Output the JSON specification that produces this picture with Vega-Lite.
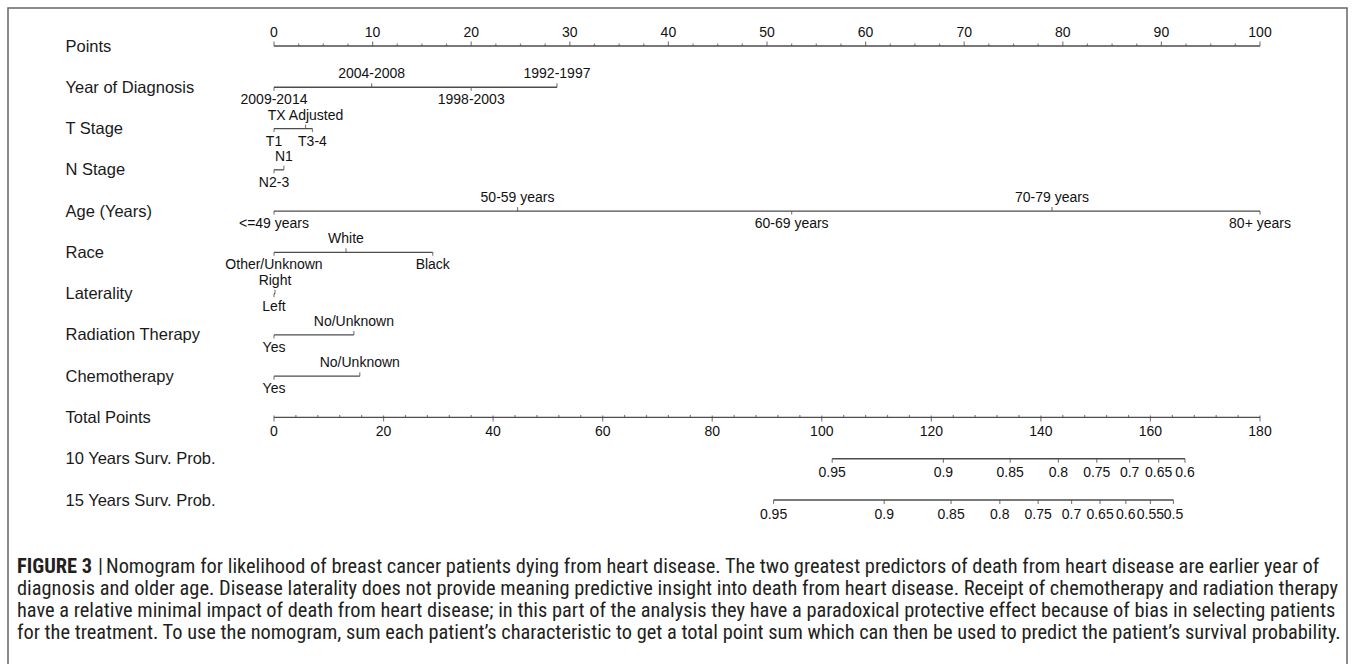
{
  "$schema": "https://vega.github.io/schema/vega-lite/v6.json",
  "width": 1339,
  "height": 660,
  "autosize": {"type": "none"},
  "padding": {"left": 8, "top": 8, "right": 11, "bottom": -4},
  "background": "white",
  "config": {"view": {"stroke": "#666666", "strokeWidth": 1.5}},
  "datasets": {
    "levels": [
      {"var": "Year of Diagnosis", "label": "2009-2014", "pts": 0},
      {"var": "Year of Diagnosis", "label": "2004-2008", "pts": 9.9},
      {"var": "Year of Diagnosis", "label": "1998-2003", "pts": 20.0},
      {"var": "Year of Diagnosis", "label": "1992-1997", "pts": 28.7},
      {"var": "T Stage", "label": "T1", "pts": 0},
      {"var": "T Stage", "label": "TX Adjusted", "pts": 3.2},
      {"var": "T Stage", "label": "T3-4", "pts": 3.9},
      {"var": "N Stage", "label": "N2-3", "pts": 0},
      {"var": "N Stage", "label": "N1", "pts": 1.0},
      {"var": "Age (Years)", "label": "<=49 years", "pts": 0},
      {"var": "Age (Years)", "label": "50-59 years", "pts": 24.7},
      {"var": "Age (Years)", "label": "60-69 years", "pts": 52.5},
      {"var": "Age (Years)", "label": "70-79 years", "pts": 78.9},
      {"var": "Age (Years)", "label": "80+ years", "pts": 100},
      {"var": "Race", "label": "Other/Unknown", "pts": 0},
      {"var": "Race", "label": "White", "pts": 7.3},
      {"var": "Race", "label": "Black", "pts": 16.1},
      {"var": "Laterality", "label": "Left", "pts": 0},
      {"var": "Laterality", "label": "Right", "pts": 0.1},
      {"var": "Radiation Therapy", "label": "Yes", "pts": 0},
      {"var": "Radiation Therapy", "label": "No/Unknown", "pts": 8.1},
      {"var": "Chemotherapy", "label": "Yes", "pts": 0},
      {"var": "Chemotherapy", "label": "No/Unknown", "pts": 8.7}
    ],
    "ptsAxis": [
      {"v": 0}, {"v": 2.5}, {"v": 5}, {"v": 7.5}, {"v": 10}, {"v": 12.5}, {"v": 15}, {"v": 17.5}, {"v": 20}, {"v": 22.5},
      {"v": 25}, {"v": 27.5}, {"v": 30}, {"v": 32.5}, {"v": 35}, {"v": 37.5}, {"v": 40}, {"v": 42.5}, {"v": 45}, {"v": 47.5},
      {"v": 50}, {"v": 52.5}, {"v": 55}, {"v": 57.5}, {"v": 60}, {"v": 62.5}, {"v": 65}, {"v": 67.5}, {"v": 70}, {"v": 72.5},
      {"v": 75}, {"v": 77.5}, {"v": 80}, {"v": 82.5}, {"v": 85}, {"v": 87.5}, {"v": 90}, {"v": 92.5}, {"v": 95}, {"v": 97.5},
      {"v": 100}
    ],
    "totAxis": [
      {"v": 0}, {"v": 4}, {"v": 8}, {"v": 12}, {"v": 16}, {"v": 20}, {"v": 24}, {"v": 28}, {"v": 32}, {"v": 36},
      {"v": 40}, {"v": 44}, {"v": 48}, {"v": 52}, {"v": 56}, {"v": 60}, {"v": 64}, {"v": 68}, {"v": 72}, {"v": 76},
      {"v": 80}, {"v": 84}, {"v": 88}, {"v": 92}, {"v": 96}, {"v": 100}, {"v": 104}, {"v": 108}, {"v": 112}, {"v": 116},
      {"v": 120}, {"v": 124}, {"v": 128}, {"v": 132}, {"v": 136}, {"v": 140}, {"v": 144}, {"v": 148}, {"v": 152}, {"v": 156},
      {"v": 160}, {"v": 164}, {"v": 168}, {"v": 172}, {"v": 176}, {"v": 180}
    ],
    "surv": [
      {"var": "10 Years Surv. Prob.", "prob": 0.95, "tot": 101.9},
      {"var": "10 Years Surv. Prob.", "prob": 0.9, "tot": 122.2},
      {"var": "10 Years Surv. Prob.", "prob": 0.85, "tot": 134.4},
      {"var": "10 Years Surv. Prob.", "prob": 0.8, "tot": 143.2},
      {"var": "10 Years Surv. Prob.", "prob": 0.75, "tot": 150.2},
      {"var": "10 Years Surv. Prob.", "prob": 0.7, "tot": 156.2},
      {"var": "10 Years Surv. Prob.", "prob": 0.65, "tot": 161.5},
      {"var": "10 Years Surv. Prob.", "prob": 0.6, "tot": 166.3},
      {"var": "15 Years Surv. Prob.", "prob": 0.95, "tot": 91.2},
      {"var": "15 Years Surv. Prob.", "prob": 0.9, "tot": 111.4},
      {"var": "15 Years Surv. Prob.", "prob": 0.85, "tot": 123.6},
      {"var": "15 Years Surv. Prob.", "prob": 0.8, "tot": 132.5},
      {"var": "15 Years Surv. Prob.", "prob": 0.75, "tot": 139.5},
      {"var": "15 Years Surv. Prob.", "prob": 0.7, "tot": 145.6},
      {"var": "15 Years Surv. Prob.", "prob": 0.65, "tot": 150.8},
      {"var": "15 Years Surv. Prob.", "prob": 0.6, "tot": 155.5},
      {"var": "15 Years Surv. Prob.", "prob": 0.55, "tot": 160.0},
      {"var": "15 Years Surv. Prob.", "prob": 0.5, "tot": 164.2}
    ],
    "caption": [
      {"line": 1, "text": "Nomogram for likelihood of breast cancer patients dying from heart disease. The two greatest predictors of death from heart disease are earlier year of"},
      {"line": 2, "text": "diagnosis and older age. Disease laterality does not provide meaning predictive insight into death from heart disease. Receipt of chemotherapy and radiation therapy"},
      {"line": 3, "text": "have a relative minimal impact of death from heart disease; in this part of the analysis they have a paradoxical protective effect because of bias in selecting patients"},
      {"line": 4, "text": "for the treatment. To use the nomogram, sum each patient’s characteristic to get a total point sum which can then be used to predict the patient’s survival probability."}
    ]
  },
  "layer": [
    {
      "encoding": {
        "y": {
          "field": "var", "type": "nominal",
          "scale": {"type": "point", "padding": 0, "range": [38, 492],
            "domain": ["Points", "Year of Diagnosis", "T Stage", "N Stage", "Age (Years)", "Race", "Laterality", "Radiation Therapy", "Chemotherapy", "Total Points", "10 Years Surv. Prob.", "15 Years Surv. Prob."]},
          "axis": {"orient": "left", "domain": false, "ticks": false, "tickSize": 0, "grid": false, "title": null,
            "labelPadding": -57, "labelAlign": "left", "labelBaseline": "middle", "labelFont": "Liberation Sans",
            "labelFontSize": 16.5, "labelColor": "#1a1a1a", "labelLimit": 0, "labelOverlap": false}
        }
      },
      "layer": [
        {
          "data": {"name": "levels"},
          "transform": [{"aggregate": [{"op": "min", "field": "pts", "as": "lo"}, {"op": "max", "field": "pts", "as": "hi"}], "groupby": ["var"]}],
          "mark": {"type": "rule", "color": "#4d4d4d", "strokeWidth": 1.3},
          "encoding": {
            "x": {"field": "lo", "type": "quantitative", "scale": {"domain": [0, 100], "range": [266, 1252], "nice": false, "zero": false}, "axis": null},
            "x2": {"field": "hi"}
          }
        },
        {
          "data": {"name": "levels"},
          "transform": [
            {"window": [{"op": "row_number", "as": "rk"}], "groupby": ["var"], "sort": [{"field": "pts", "order": "ascending"}]},
            {"filter": "datum.rk % 2 === 0"}
          ],
          "mark": {"type": "tick", "color": "#4d4d4d", "size": 4, "thickness": 1.2, "yOffset": -2},
          "encoding": {"x": {"field": "pts", "type": "quantitative", "axis": null}}
        },
        {
          "data": {"name": "levels"},
          "transform": [
            {"window": [{"op": "row_number", "as": "rk"}], "groupby": ["var"], "sort": [{"field": "pts", "order": "ascending"}]},
            {"filter": "datum.rk % 2 === 1"}
          ],
          "mark": {"type": "tick", "color": "#4d4d4d", "size": 3.5, "thickness": 1.2, "yOffset": 1.75},
          "encoding": {"x": {"field": "pts", "type": "quantitative", "axis": null}}
        },
        {
          "data": {"name": "levels"},
          "transform": [
            {"window": [{"op": "row_number", "as": "rk"}], "groupby": ["var"], "sort": [{"field": "pts", "order": "ascending"}]},
            {"filter": "datum.rk % 2 === 0"}
          ],
          "mark": {"type": "text", "font": "Liberation Sans", "fontSize": 14, "color": "#111111", "baseline": "middle", "align": "center", "dy": -13},
          "encoding": {"x": {"field": "pts", "type": "quantitative", "axis": null}, "text": {"field": "label"}}
        },
        {
          "data": {"name": "levels"},
          "transform": [
            {"window": [{"op": "row_number", "as": "rk"}], "groupby": ["var"], "sort": [{"field": "pts", "order": "ascending"}]},
            {"filter": "datum.rk % 2 === 1"}
          ],
          "mark": {"type": "text", "font": "Liberation Sans", "fontSize": 14, "color": "#111111", "baseline": "middle", "align": "center", "dy": 13},
          "encoding": {"x": {"field": "pts", "type": "quantitative", "axis": null}, "text": {"field": "label"}}
        },
        {
          "data": {"name": "ptsAxis"},
          "transform": [
            {"aggregate": [{"op": "min", "field": "v", "as": "lo"}, {"op": "max", "field": "v", "as": "hi"}]},
            {"calculate": "'Points'", "as": "var"}
          ],
          "mark": {"type": "rule", "color": "#4d4d4d", "strokeWidth": 1.3},
          "encoding": {"x": {"field": "lo", "type": "quantitative", "axis": null}, "x2": {"field": "hi"}}
        },
        {
          "data": {"name": "ptsAxis"},
          "transform": [{"filter": "datum.v % 10 === 0"}, {"calculate": "'Points'", "as": "var"}],
          "mark": {"type": "tick", "color": "#4d4d4d", "size": 4.5, "thickness": 1.2, "yOffset": -2.25},
          "encoding": {"x": {"field": "v", "type": "quantitative", "axis": null}}
        },
        {
          "data": {"name": "ptsAxis"},
          "transform": [{"filter": "datum.v % 10 !== 0"}, {"calculate": "'Points'", "as": "var"}],
          "mark": {"type": "tick", "color": "#4d4d4d", "size": 2.5, "thickness": 1.2, "yOffset": -1.25},
          "encoding": {"x": {"field": "v", "type": "quantitative", "axis": null}}
        },
        {
          "data": {"name": "ptsAxis"},
          "transform": [{"filter": "datum.v % 10 === 0"}, {"calculate": "'Points'", "as": "var"}],
          "mark": {"type": "text", "font": "Liberation Sans", "fontSize": 14, "color": "#111111", "baseline": "middle", "align": "center", "dy": -13},
          "encoding": {"x": {"field": "v", "type": "quantitative", "axis": null}, "text": {"field": "v", "type": "quantitative"}}
        }
      ]
    },
    {
      "encoding": {
        "y": {
          "field": "var", "type": "nominal",
          "scale": {"type": "point", "padding": 0, "range": [38, 492],
            "domain": ["Points", "Year of Diagnosis", "T Stage", "N Stage", "Age (Years)", "Race", "Laterality", "Radiation Therapy", "Chemotherapy", "Total Points", "10 Years Surv. Prob.", "15 Years Surv. Prob."]},
          "axis": null
        }
      },
      "layer": [
        {
          "data": {"name": "totAxis"},
          "transform": [
            {"aggregate": [{"op": "min", "field": "v", "as": "lo"}, {"op": "max", "field": "v", "as": "hi"}]},
            {"calculate": "'Total Points'", "as": "var"}
          ],
          "mark": {"type": "rule", "color": "#4d4d4d", "strokeWidth": 1.3},
          "encoding": {
            "x": {"field": "lo", "type": "quantitative", "scale": {"domain": [0, 180], "range": [266, 1252], "nice": false, "zero": false}, "axis": null},
            "x2": {"field": "hi"}
          }
        },
        {
          "data": {"name": "totAxis"},
          "transform": [{"filter": "datum.v % 20 !== 0"}, {"calculate": "'Total Points'", "as": "var"}],
          "mark": {"type": "tick", "color": "#4d4d4d", "size": 2.5, "thickness": 1.2, "yOffset": -1.25},
          "encoding": {"x": {"field": "v", "type": "quantitative", "axis": null}}
        },
        {
          "data": {"name": "totAxis"},
          "transform": [{"filter": "datum.v % 20 === 0"}, {"calculate": "'Total Points'", "as": "var"}],
          "mark": {"type": "tick", "color": "#4d4d4d", "size": 6, "thickness": 1.2, "yOffset": 1},
          "encoding": {"x": {"field": "v", "type": "quantitative", "axis": null}}
        },
        {
          "data": {"name": "totAxis"},
          "transform": [{"filter": "datum.v % 20 === 0"}, {"calculate": "'Total Points'", "as": "var"}],
          "mark": {"type": "text", "font": "Liberation Sans", "fontSize": 14, "color": "#111111", "baseline": "middle", "align": "center", "dy": 14.5},
          "encoding": {"x": {"field": "v", "type": "quantitative", "axis": null}, "text": {"field": "v", "type": "quantitative"}}
        },
        {
          "data": {"name": "surv"},
          "transform": [{"aggregate": [{"op": "min", "field": "tot", "as": "lo"}, {"op": "max", "field": "tot", "as": "hi"}], "groupby": ["var"]}],
          "mark": {"type": "rule", "color": "#4d4d4d", "strokeWidth": 1.3},
          "encoding": {"x": {"field": "lo", "type": "quantitative", "axis": null}, "x2": {"field": "hi"}}
        },
        {
          "data": {"name": "surv"},
          "mark": {"type": "tick", "color": "#4d4d4d", "size": 4, "thickness": 1.2, "yOffset": 2},
          "encoding": {"x": {"field": "tot", "type": "quantitative", "axis": null}}
        },
        {
          "data": {"name": "surv"},
          "mark": {"type": "text", "font": "Liberation Sans", "fontSize": 14, "color": "#111111", "baseline": "middle", "align": "center", "dy": 14.5},
          "encoding": {"x": {"field": "tot", "type": "quantitative", "axis": null}, "text": {"field": "prob", "type": "quantitative", "format": "~g"}}
        }
      ]
    },
    {
      "data": {"name": "caption"},
      "encoding": {
        "x": {"datum": 0, "type": "quantitative", "scale": {"domain": [0, 1], "range": [9, 1340], "nice": false, "zero": false}, "axis": null},
        "y": {"field": "line", "type": "ordinal", "scale": {"type": "point", "domain": [1, 2, 3, 4], "range": [559, 625], "padding": 0}, "axis": null}
      },
      "layer": [
        {
          "transform": [{"filter": "datum.line === 1"}],
          "mark": {"type": "text", "align": "left", "baseline": "middle", "font": "Liberation Sans Narrow, Roboto Condensed, DejaVu Sans Condensed, Liberation Sans", "fontSize": 20.4, "fontWeight": "bold", "color": "#231f20"},
          "encoding": {"text": {"value": "FIGURE 3"}}
        },
        {
          "transform": [{"filter": "datum.line === 1"}],
          "mark": {"type": "text", "align": "left", "baseline": "middle", "font": "Liberation Sans Narrow, Roboto Condensed, DejaVu Sans Condensed, Liberation Sans", "fontSize": 20.4, "color": "#231f20", "dx": 81},
          "encoding": {"text": {"value": "|"}}
        },
        {
          "transform": [{"filter": "datum.line === 1"}],
          "mark": {"type": "text", "align": "left", "baseline": "middle", "font": "Liberation Sans Narrow, Roboto Condensed, DejaVu Sans Condensed, Liberation Sans", "fontSize": 20.4, "color": "#231f20", "dx": 89},
          "encoding": {"text": {"field": "text"}}
        },
        {
          "transform": [{"filter": "datum.line > 1"}],
          "mark": {"type": "text", "align": "left", "baseline": "middle", "font": "Liberation Sans Narrow, Roboto Condensed, DejaVu Sans Condensed, Liberation Sans", "fontSize": 20.4, "color": "#231f20"},
          "encoding": {"text": {"field": "text"}}
        }
      ]
    }
  ],
  "resolve": {"scale": {"x": "independent", "y": "independent"}}
}
